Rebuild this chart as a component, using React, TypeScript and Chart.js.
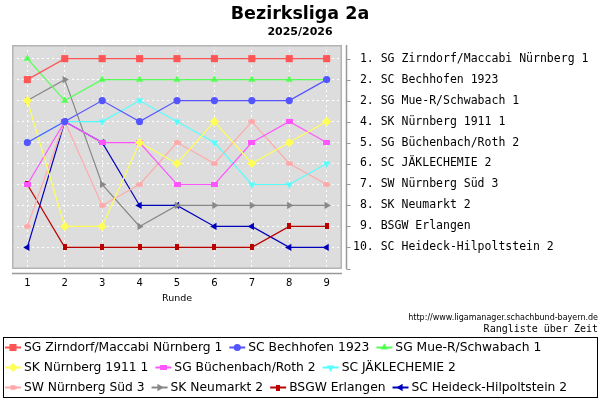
import React, { useEffect, useRef } from 'react';
import { Chart, registerables } from 'chart.js';
import { drawPoint } from 'chart.js/helpers';

Chart.register(...registerables);

const chartTitle = 'Bezirksliga 2a';
const chartSubtitle = '2025/2026';
const xTitle = 'Runde';
const sourceUrl = 'http://www.ligamanager.schachbund-bayern.de';
const footerText = 'Rangliste über Zeit';

const rounds = [1, 2, 3, 4, 5, 6, 7, 8, 9];
const rankTicks = [1, 2, 3, 4, 5, 6, 7, 8, 9, 10];
const rankLabels = [
  ' 1. SG Zirndorf/Maccabi Nürnberg 1',
  ' 2. SC Bechhofen 1923',
  ' 2. SG Mue-R/Schwabach 1',
  ' 4. SK Nürnberg 1911 1',
  ' 5. SG Büchenbach/Roth 2',
  ' 6. SC JÄKLECHEMIE 2',
  ' 7. SW Nürnberg Süd 3',
  ' 8. SK Neumarkt 2',
  ' 9. BSGW Erlangen',
  '10. SC Heideck-Hilpoltstein 2',
];

const teamNames = [
  'SG Zirndorf/Maccabi Nürnberg 1',
  'SC Bechhofen 1923',
  'SG Mue-R/Schwabach 1',
  'SK Nürnberg 1911 1',
  'SG Büchenbach/Roth 2',
  'SC JÄKLECHEMIE 2',
  'SW Nürnberg Süd 3',
  'SK Neumarkt 2',
  'BSGW Erlangen',
  'SC Heideck-Hilpoltstein 2',
];

const zirndorf = [2, 1, 1, 1, 1, 1, 1, 1, 1];
const bechhofen = [5, 4, 3, 4, 3, 3, 3, 3, 2];
const mueSchwabach = [1, 3, 2, 2, 2, 2, 2, 2, 2];
const nuernberg1911 = [3, 9, 9, 5, 6, 4, 6, 5, 4];
const buechenbach = [7, 4, 5, 5, 7, 7, 5, 4, 5];
const jaekle = [5, 4, 4, 3, 4, 5, 7, 7, 6];
const nuernbergSued = [9, 4, 8, 7, 5, 6, 4, 6, 7];
const neumarkt = [3, 2, 7, 9, 8, 8, 8, 8, 8];
const bsgw = [7, 10, 10, 10, 10, 10, 10, 9, 9];
const heideck = [10, 4, 5, 8, 8, 9, 9, 10, 10];

const seriesValues = [
  zirndorf, bechhofen, mueSchwabach, nuernberg1911, buechenbach,
  jaekle, nuernbergSued, neumarkt, bsgw, heideck,
];

const seriesColors = [
  '#ff5555', '#5555ff', '#55ff55', '#ffff55', '#ff55ff',
  '#55ffff', '#ffaaaa', '#888888', '#bb0000', '#0000bb',
];

const legendRows = [3, 3, 4];

function markImage(w: number, h: number, color: string, ellipse: boolean): HTMLCanvasElement {
  const c = document.createElement('canvas');
  c.width = w;
  c.height = h;
  const g = c.getContext('2d')!;
  g.fillStyle = color;
  if (ellipse) {
    g.beginPath();
    g.ellipse(w / 2, h / 2, w / 2, h / 2, 0, 0, Math.PI * 2);
    g.fill();
  } else {
    g.fillRect(0, 0, w, h);
  }
  return c;
}

export default function App() {
  const ref = useRef<HTMLCanvasElement | null>(null);

  useEffect(() => {
    document.body.style.margin = '0';
    const canvas = ref.current;
    if (!canvas) return;

    const markers: any[] = [
      { style: 'rect', radius: 5, rotation: 0 },
      { style: 'circle', radius: 3.6, rotation: 0 },
      { style: 'triangle', radius: 4.2, rotation: 0 },
      { style: 'rectRot', radius: 4.6, rotation: 0 },
      { style: markImage(7, 5, seriesColors[4], false), radius: 4, rotation: 0 },
      { style: 'triangle', radius: 4.2, rotation: 180 },
      { style: markImage(7, 5, seriesColors[6], true), radius: 4, rotation: 0 },
      { style: 'triangle', radius: 4.2, rotation: 90 },
      { style: markImage(4, 6, seriesColors[8], false), radius: 4, rotation: 0 },
      { style: 'triangle', radius: 4.2, rotation: -90 },
    ];

    const datasets = seriesValues.map((vals, i) => ({
      label: teamNames[i],
      data: rounds.map((r, j) => ({ x: r, y: vals[j] })),
      borderColor: seriesColors[i],
      backgroundColor: seriesColors[i],
      borderWidth: 1.2,
      pointStyle: markers[i].style,
      pointRadius: markers[i].radius,
      pointRotation: markers[i].rotation,
      pointBorderWidth: 0,
      pointHoverRadius: markers[i].radius,
      tension: 0,
    }));

    const decor = {
      id: 'decor',
      beforeDraw(chart: any) {
        const { ctx, chartArea: a } = chart;
        ctx.save();
        ctx.fillStyle = '#ffffff';
        ctx.fillRect(0, 0, chart.width, chart.height);
        ctx.fillStyle = '#dddddd';
        ctx.fillRect(a.left, a.top, a.right - a.left, a.bottom - a.top);
        ctx.restore();
      },
      afterDraw(chart: any) {
        const { ctx, chartArea: a } = chart;
        const yScale = chart.scales.y;
        ctx.save();
        // plot frame
        ctx.strokeStyle = '#b4b4b4';
        ctx.lineWidth = 1.5;
        ctx.strokeRect(a.left + 0.75, a.top + 0.75, a.right - a.left - 1.5, a.bottom - a.top - 1.5);

        // axis lines
        ctx.strokeStyle = '#999999';
        ctx.lineWidth = 1.5;
        const axY = a.bottom + 4.5;
        ctx.beginPath();
        ctx.moveTo(a.left, axY);
        ctx.lineTo(a.right, axY);
        ctx.stroke();
        const axX = a.right + 4.5;
        ctx.beginPath();
        ctx.moveTo(axX, a.top);
        ctx.lineTo(axX, a.bottom);
        ctx.stroke();
        ctx.lineWidth = 1;
        ctx.beginPath();
        const tickYs = rankTicks.map((v) => yScale.getPixelForValue(v)).concat([a.bottom - 0.5]);
        tickYs.forEach((py: number) => {
          const yy = Math.round(py) + 0.5;
          ctx.moveTo(axX, yy);
          ctx.lineTo(axX + 4, yy);
        });
        ctx.stroke();

        // titles
        ctx.fillStyle = '#000000';
        ctx.textAlign = 'center';
        ctx.textBaseline = 'alphabetic';
        ctx.font = 'bold 17.5px "DejaVu Sans"';
        ctx.fillText(chartTitle, 300, 18.5);
        ctx.font = 'bold 11px "DejaVu Sans"';
        ctx.fillText(chartSubtitle, 300, 35);

        ctx.textBaseline = 'middle';
        ctx.font = '9.5px "DejaVu Sans"';
        ctx.fillText(xTitle, (a.left + a.right) / 2, 299);

        ctx.textAlign = 'right';
        ctx.font = '8px "DejaVu Sans"';
        ctx.fillText(sourceUrl, 598, 318);
        ctx.font = '10px "DejaVu Sans Mono"';
        ctx.fillText(footerText, 598, 329);

        // legend
        ctx.strokeStyle = '#000000';
        ctx.lineWidth = 1;
        ctx.strokeRect(3.5, 337.5, 594, 60);
        ctx.font = '12.3px "DejaVu Sans"';
        ctx.textAlign = 'left';
        let idx = 0;
        legendRows.forEach((count, row) => {
          const cy = 347.5 + row * 20;
          let x = 5;
          for (let k = 0; k < count; k++, idx++) {
            const ds = chart.data.datasets[idx];
            ctx.strokeStyle = ds.borderColor;
            ctx.fillStyle = ds.backgroundColor;
            ctx.lineWidth = 2;
            ctx.beginPath();
            ctx.moveTo(x, cy);
            ctx.lineTo(x + 16, cy);
            ctx.stroke();
            drawPoint(ctx, { pointStyle: markers[idx].style, rotation: markers[idx].rotation, radius: markers[idx].radius, borderWidth: 0 } as any, x + 8, cy);
            ctx.fillStyle = '#000000';
            const tx = x + 19;
            ctx.fillText(ds.label, tx, cy);
            x = tx + ctx.measureText(ds.label).width + 7;
          }
        });
        ctx.restore();
      },
    };

    const chart = new Chart(canvas, {
      type: 'line',
      data: { datasets },
      options: {
        responsive: false,
        animation: false,
        devicePixelRatio: 1,
        layout: { padding: { left: 12, top: 45, right: 0, bottom: 0 }, autoPadding: false },
        plugins: {
          legend: { display: false },
          title: { display: false },
          tooltip: { enabled: false },
        },
        scales: {
          x: {
            type: 'linear',
            min: 0.59,
            max: 9.41,
            afterBuildTicks: (s: any) => { s.ticks = rounds.map((v) => ({ value: v })); },
            afterFit: (s: any) => { s.height = 131; },
            grid: { color: '#ffffff', lineWidth: 1, drawTicks: false },
            border: { display: false, dash: [2, 3] },
            ticks: {
              padding: 8,
              color: '#000000',
              font: { family: 'DejaVu Sans', size: 10 },
              maxRotation: 0,
              autoSkip: false,
              callback: (v: any) => String(v),
            },
          },
          y: {
            type: 'linear',
            position: 'right',
            reverse: true,
            min: 0.35,
            max: 11.03,
            afterBuildTicks: (s: any) => { s.ticks = rankTicks.map((v) => ({ value: v })); },
            afterFit: (s: any) => { s.width = 258; },
            grid: { color: '#ffffff', lineWidth: 1, drawTicks: false },
            border: { display: false, dash: [2, 3] },
            ticks: {
              padding: 11,
              color: '#000000',
              font: { family: 'DejaVu Sans Mono', size: 11.5 },
              autoSkip: false,
              callback: (v: any) => rankLabels[rankTicks.indexOf(Number(v))] ?? '',
            },
          },
        },
      },
      plugins: [decor],
    });

    return () => chart.destroy();
  }, []);

  return (
    <div style={{ position: 'absolute', left: 0, top: 0, width: 600, height: 400 }}>
      <canvas ref={ref} width={600} height={400} style={{ width: 600, height: 400 }} />
    </div>
  );
}
